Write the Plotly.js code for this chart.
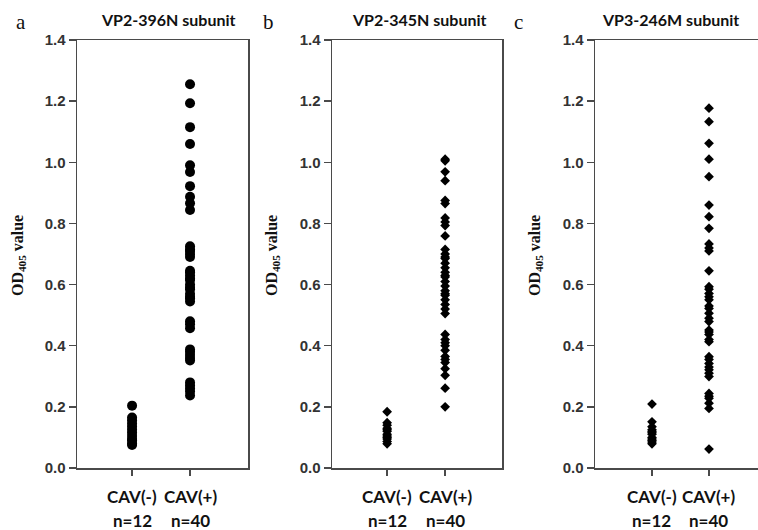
<!DOCTYPE html>
<html><head><meta charset="utf-8">
<script src="https://cdn.plot.ly/plotly-3.0.1.min.js"></script>
<style>html,body{margin:0;padding:0;background:#fff}#chart{width:758px;height:530px}</style>
</head><body><div id="chart"></div>
<script>
// ---- data ----
var categories = ["CAV(-)", "CAV(+)"];
var groupSizes = ["n=12", "n=40"];
var panelLetters = ["a", "b", "c"];
var panelTitles = ["VP2-396N subunit", "VP2-345N subunit", "VP3-246M subunit"];
var yTickVals = [0, 0.2, 0.4, 0.6, 0.8, 1.0, 1.2, 1.4];
var yTickText = ["0.0", "0.2", "0.4", "0.6", "0.8", "1.0", "1.2", "1.4"];

var a_neg = [0.204, 0.165, 0.155, 0.145, 0.135, 0.125, 0.115, 0.105, 0.095, 0.09, 0.08, 0.075];
var a_pos = [1.255, 1.193, 1.115, 1.06, 0.99, 0.968, 0.922, 0.887, 0.866, 0.844,
  0.725, 0.715, 0.71, 0.70, 0.69,
  0.645, 0.64, 0.63, 0.62, 0.615, 0.60, 0.59, 0.585, 0.57, 0.56, 0.555, 0.545,
  0.48, 0.47, 0.457,
  0.388, 0.38, 0.37, 0.36, 0.352,
  0.28, 0.27, 0.26, 0.25, 0.237];
var b_neg = [0.184, 0.148, 0.14, 0.13, 0.125, 0.12, 0.11, 0.105, 0.10, 0.095, 0.087, 0.079];
var b_pos = [1.01, 1.005, 0.969, 0.94, 0.875, 0.865, 0.818, 0.805, 0.793, 0.759,
  0.715, 0.70, 0.69, 0.685, 0.67, 0.655, 0.64, 0.63, 0.625, 0.61, 0.595, 0.58, 0.57, 0.565, 0.55, 0.535, 0.52, 0.505,
  0.437, 0.42, 0.41, 0.40, 0.385, 0.365, 0.355, 0.345, 0.325, 0.303,
  0.261, 0.20];
var c_neg = [0.209, 0.151, 0.135, 0.125, 0.12, 0.115, 0.11, 0.10, 0.095, 0.09, 0.085, 0.079];
var c_pos = [1.177, 1.133, 1.062, 1.01, 0.953, 0.86, 0.822, 0.784, 0.733, 0.72, 0.71,
  0.645, 0.593, 0.585, 0.571, 0.56, 0.55, 0.53, 0.522, 0.506, 0.49, 0.479,
  0.451, 0.445, 0.437, 0.42, 0.413,
  0.364, 0.355, 0.342, 0.33, 0.321, 0.31, 0.299,
  0.244, 0.235, 0.228, 0.212, 0.195, 0.062];

var panels = [
  {neg: a_neg, pos: a_pos, symbol: "circle", size: 10},
  {neg: b_neg, pos: b_pos, symbol: "diamond", size: 7.5},
  {neg: c_neg, pos: c_pos, symbol: "diamond", size: 7.5}
];

// ---- layout geometry ----
var W = 758, H = 530;
var xDomPx = [[77, 248], [332, 502], [595, 758]];
var xRanges = [[0.05, 3.0], [0.05, 2.98], [0, 2.86]];
var yDom = [62 / H, 490 / H];
var titleX = [168, 419, 670];
var letterX = [21, 268, 518];
var yTitleX = [18, 272, 535];

function rep(v, n) { var o = []; for (var i = 0; i < n; i++) o.push(v); return o; }

var traces = [];
var layout = {
  width: W, height: H,
  margin: {l: 0, r: 0, t: 0, b: 0},
  paper_bgcolor: "#fff", plot_bgcolor: "#fff",
  showlegend: false,
  annotations: []
};

var axisLine = "#4a4a4a";
panels.forEach(function (p, i) {
  var xa = i === 0 ? "x" : "x" + (i + 1);
  var ya = i === 0 ? "y" : "y" + (i + 1);
  var xk = i === 0 ? "xaxis" : "xaxis" + (i + 1);
  var yk = i === 0 ? "yaxis" : "yaxis" + (i + 1);
  var xs = rep(1, p.neg.length).concat(rep(2, p.pos.length));
  var ys = p.neg.concat(p.pos);
  traces.push({
    type: "scatter", mode: "markers", x: xs, y: ys, xaxis: xa, yaxis: ya,
    marker: {symbol: p.symbol, size: p.size, color: "#000"},
    hoverinfo: "y", cliponaxis: false
  });
  layout[xk] = {
    domain: [xDomPx[i][0] / W, xDomPx[i][1] / W], anchor: ya,
    range: xRanges[i], tickvals: [1, 2], showticklabels: false,
    ticks: "outside", ticklen: 6, tickwidth: 1.5, tickcolor: axisLine,
    showline: true, linecolor: axisLine, linewidth: 1.5, mirror: true,
    showgrid: false, zeroline: false, fixedrange: true
  };
  layout[yk] = {
    domain: yDom, anchor: xa, range: [0, 1.4],
    tickvals: yTickVals, ticktext: yTickText,
    ticks: "outside", ticklen: 7, tickwidth: 1.5, tickcolor: axisLine,
    tickfont: {family: "Liberation Sans, Arial, sans-serif", size: 15, color: "#333", weight: "bold"},
    showline: true, linecolor: axisLine, linewidth: 1.5, mirror: i < 2,
    showgrid: false, zeroline: false, fixedrange: true
  };
  layout.annotations.push({
    text: panelLetters[i], xref: "paper", yref: "paper",
    x: letterX[i] / W, y: 1 - 22 / H, xanchor: "center", yanchor: "middle", showarrow: false,
    font: {family: "Liberation Serif, Times New Roman, serif", size: 21, color: "#111"}
  });
  layout.annotations.push({
    text: "<b>" + panelTitles[i] + "</b>", xref: "paper", yref: "paper",
    x: titleX[i] / W, y: 1 - 20 / H, xanchor: "center", yanchor: "middle", showarrow: false,
    font: {family: "Lato, Open Sans, sans-serif", size: 16, color: "#111"}
  });
  layout.annotations.push({
    text: "<b>OD<sub>405</sub> value</b>", xref: "paper", yref: "paper",
    x: yTitleX[i] / W, y: 1 - 256 / H, xanchor: "center", yanchor: "middle", showarrow: false,
    textangle: -90,
    font: {family: "Liberation Serif, Times New Roman, serif", size: 16, color: "#111"}
  });
  categories.forEach(function (c, k) {
    layout.annotations.push({
      text: "<b>" + c + "</b>", xref: xa, yref: "paper",
      x: k + 1, y: 1 - 496 / H, xanchor: "center", yanchor: "middle", showarrow: false,
      font: {family: "Lato, Open Sans, sans-serif", size: 17, color: "#111"}
    });
    layout.annotations.push({
      text: "<b>" + groupSizes[k] + "</b>", xref: xa, yref: "paper",
      x: k + 1, y: 1 - 520 / H, xanchor: "center", yanchor: "middle", showarrow: false,
      font: {family: "Lato, Open Sans, sans-serif", size: 17, color: "#111"}
    });
  });
});

Plotly.newPlot("chart", traces, layout, {displayModeBar: false, staticPlot: true});
</script>
</body></html>
